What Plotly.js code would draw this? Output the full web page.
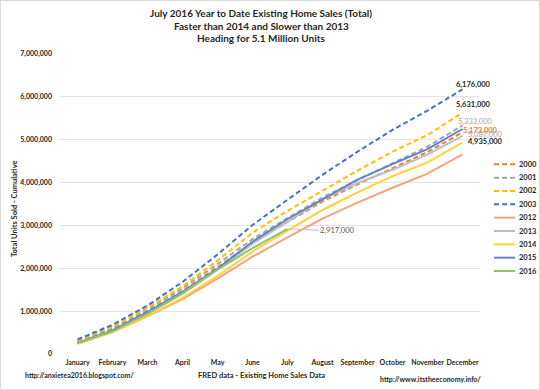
<!DOCTYPE html>
<html>
<head>
<meta charset="utf-8">
<script src="https://cdn.plot.ly/plotly-3.0.1.min.js"></script>
<style>
  html, body { margin: 0; padding: 0; background: #ffffff; }
  #wrap { position: relative; width: 540px; height: 390px; }
  #chart { width: 540px; height: 390px; }
  #frame { position: absolute; left: 0; top: 0; width: 540px; height: 390px; box-sizing: border-box; border: 1px solid #d9d9d9; pointer-events: none; }
</style>
</head>
<body>
<div id="wrap"><div id="chart"></div><div id="frame"></div></div>
<script>
// ---- data (cumulative existing home sales, units) ----
const months = ['January','February','March','April','May','June','July','August','September','October','November','December'];
const years = ['2000','2001','2002','2003','2012','2013','2014','2015','2016'];

const s2000 = [270000, 580000, 990000, 1470000, 2030000, 2590000, 3080000, 3560000, 3960000, 4330000, 4710000, 5173000];
const s2001 = [290000, 600000, 1030000, 1530000, 2100000, 2680000, 3170000, 3650000, 4060000, 4450000, 4840000, 5333000];
const s2002 = [320000, 640000, 1080000, 1580000, 2180000, 2830000, 3340000, 3820000, 4280000, 4720000, 5110000, 5631000];
const s2003 = [340000, 680000, 1130000, 1680000, 2320000, 3010000, 3600000, 4180000, 4720000, 5230000, 5680000, 6176000];
const s2012 = [240000, 510000, 880000, 1280000, 1760000, 2270000, 2720000, 3160000, 3530000, 3880000, 4210000, 4660000];
const s2013 = [250000, 530000, 930000, 1400000, 1970000, 2570000, 3090000, 3610000, 3990000, 4300000, 4650000, 5087000];
const s2014 = [250000, 510000, 880000, 1310000, 1820000, 2390000, 2880000, 3360000, 3770000, 4150000, 4470000, 4935000];
const s2015 = [260000, 550000, 980000, 1450000, 1990000, 2620000, 3150000, 3620000, 4070000, 4430000, 4780000, 5250000];
const s2016 = [260000, 530000, 940000, 1420000, 1970000, 2470000, 2917000];

const yTicks = [0, 1000000, 2000000, 3000000, 4000000, 5000000, 6000000, 7000000];
const yTickText = ['0', '1,000,000', '2,000,000', '3,000,000', '4,000,000', '5,000,000', '6,000,000', '7,000,000'];

const titleLines = ['July 2016 Year to Date Existing Home Sales (Total)', 'Faster than 2014 and Slower than 2013', 'Heading for 5.1 Million Units'];

// labels on December end points (series, text)
const endLabels = [
  ['2003', '6,176,000'],
  ['2002', '5,631,000'],
  ['2001', '5,333,000'],
  ['2000', '5,173,000'],
  ['2013', '5,087,000'],
  ['2014', '4,935,000']
];
const lastLabel = ['2016', '2,917,000'];

// ---- styles ----
const seriesData = {'2000': s2000, '2001': s2001, '2002': s2002, '2003': s2003, '2012': s2012,
                    '2013': s2013, '2014': s2014, '2015': s2015, '2016': s2016};
const style = {
  '2000': {color: '#ED7D31', dash: '5px,3px'},
  '2001': {color: '#A5A5A5', dash: '5px,3px'},
  '2002': {color: '#FFC000', dash: '5px,3px'},
  '2003': {color: '#4472C4', dash: '5px,3px'},
  '2012': {color: '#F4A47A', dash: 'solid'},
  '2013': {color: '#BFBFBF', dash: 'solid'},
  '2014': {color: '#FFD135', dash: 'solid'},
  '2015': {color: '#5B85CC', dash: 'solid'},
  '2016': {color: '#8CC56A', dash: 'solid'}
};
const labelStyle = {
  '2003': {color: '#262626', weight: 'bold', dx: 11, dy: 5},
  '2002': {color: '#262626', weight: 'bold', dx: 11, dy: 8},
  '2001': {color: '#A5A5A5', weight: 'normal', dx: 13, dy: 4},
  '2000': {color: '#ED7D31', weight: 'bold', dx: 18, dy: 2},
  '2013': {color: '#A5A5A5', weight: 'normal', dx: 23, dy: 1},
  '2014': {color: '#262626', weight: 'bold', dx: 23, dy: 1}
};

const FONT = 'Lato, "Open Sans", "DejaVu Sans", sans-serif';
const W = 540, H = 390;
const M = {l: 60, r: 60, t: 54, b: 36};
const PW = W - M.l - M.r, PH = H - M.t - M.b;
const px = x => (x - M.l) / PW;
const py = y => (H - M.b - y) / PH;

const traces = years.map(yr => ({
  type: 'scatter', mode: 'lines', name: yr,
  x: months.slice(0, seriesData[yr].length),
  y: seriesData[yr],
  line: {color: style[yr].color, width: 2, dash: style[yr].dash},
  showlegend: false, hoverinfo: 'x+y+name'
}));

const annotations = [];
const shapes = [];

// title lines
titleLines.forEach((t, i) => {
  annotations.push({
    xref: 'paper', yref: 'paper', x: px(261), y: py(13.3 + i * 12.5),
    text: t, showarrow: false, xanchor: 'center', yanchor: 'middle',
    font: {family: FONT, size: 10, color: '#262626', weight: 'bold'}
  });
});

endLabels.forEach(([yr, txt]) => {
  const d = seriesData[yr];
  const ls = labelStyle[yr];
  annotations.push({
    x: months[d.length - 1], y: d[d.length - 1], xref: 'x', yref: 'y',
    text: txt, showarrow: false, xanchor: 'center', yanchor: 'middle',
    xshift: ls.dx, yshift: ls.dy,
    font: {family: FONT, size: 7.5, color: ls.color, weight: ls.weight}
  });
});

(function () {
  const d = seriesData[lastLabel[0]];
  annotations.push({
    x: months[d.length - 1], y: d[d.length - 1], xref: 'x', yref: 'y',
    text: lastLabel[1], showarrow: true, arrowhead: 0, arrowwidth: 1, arrowcolor: '#bfbfbf',
    ax: 50, ay: 2, standoff: 1,
    font: {family: FONT, size: 7.5, color: '#595959'}
  });
})();

// manual legend
years.forEach((yr, i) => {
  const yy = 164.3 + i * 13.34;
  shapes.push({
    type: 'line', xref: 'paper', yref: 'paper',
    x0: px(494), x1: px(515), y0: py(yy), y1: py(yy),
    line: {color: style[yr].color, width: 2, dash: style[yr].dash}
  });
  annotations.push({
    xref: 'paper', yref: 'paper', x: px(517), y: py(yy), xanchor: 'left', yanchor: 'middle',
    text: yr, showarrow: false,
    font: {family: FONT, size: 7.5, color: '#262626', weight: 'bold'}
  });
});

// axis titles and footers
annotations.push({
  xref: 'paper', yref: 'paper', x: px(15), y: py(209), textangle: -90,
  text: 'Total Units Sold - Cumulative', showarrow: false, xanchor: 'center', yanchor: 'middle',
  font: {family: FONT, size: 7.5, color: '#262626', weight: 'bold'}
});
annotations.push({
  xref: 'paper', yref: 'paper', x: px(261), y: py(375),
  text: 'FRED data - Existing Home Sales Data', showarrow: false, xanchor: 'center', yanchor: 'middle',
  font: {family: FONT, size: 7.5, color: '#262626', weight: 'bold'}
});
annotations.push({
  xref: 'paper', yref: 'paper', x: px(23), y: py(375),
  text: 'http://anxietea2016.blogspot.com/', showarrow: false, xanchor: 'left', yanchor: 'middle',
  font: {family: FONT, size: 7, color: '#262626', weight: 'bold'}
});
annotations.push({
  xref: 'paper', yref: 'paper', x: px(378), y: py(379),
  text: 'http://www.itstheeconomy.info/', showarrow: false, xanchor: 'left', yanchor: 'middle',
  font: {family: FONT, size: 7, color: '#262626', weight: 'bold'}
});

const layout = {
  width: W, height: H,
  margin: M,
  paper_bgcolor: '#ffffff', plot_bgcolor: '#ffffff',
  showlegend: false,
  xaxis: {
    type: 'category', categoryarray: months, range: [-0.5, 11.5],
    showgrid: false, zeroline: false, showline: false, ticks: '',
    ticklabelstandoff: 3,
    tickfont: {family: FONT, size: 7, color: '#262626', weight: 'bold'},
    fixedrange: true
  },
  yaxis: {
    range: [0, 7000000], tickvals: yTicks, ticktext: yTickText,
    showgrid: true, gridcolor: '#e3e3e3', gridwidth: 1, zeroline: false, showline: false, ticks: '',
    ticklabelstandoff: 7,
    tickfont: {family: FONT, size: 7, color: '#262626', weight: 'bold'},
    fixedrange: true
  },
  annotations: annotations,
  shapes: shapes
};

Plotly.newPlot('chart', traces, layout, {displayModeBar: false, staticPlot: true});
</script>
</body>
</html>
